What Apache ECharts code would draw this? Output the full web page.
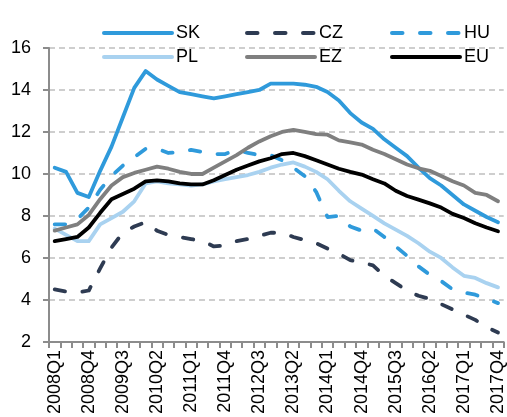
<!DOCTYPE html>
<html>
<head>
<meta charset="utf-8">
<script src="https://cdn.jsdelivr.net/npm/echarts@6/dist/echarts.min.js"></script>
<style>html,body{margin:0;padding:0;background:#fff}#c{width:507px;height:417px}</style>
</head>
<body>
<div id="c"></div>
<script>
const categories = ["2008Q1","2008Q2","2008Q3","2008Q4","2009Q1","2009Q2","2009Q3","2009Q4",
  "2010Q1","2010Q2","2010Q3","2010Q4","2011Q1","2011Q2","2011Q3","2011Q4",
  "2012Q1","2012Q2","2012Q3","2012Q4","2013Q1","2013Q2","2013Q3","2013Q4",
  "2014Q1","2014Q2","2014Q3","2014Q4","2015Q1","2015Q2","2015Q3","2015Q4",
  "2016Q1","2016Q2","2016Q3","2016Q4","2017Q1","2017Q2","2017Q3","2017Q4"];
const SK = [10.3,10.1,9.1,8.9,10.15,11.3,12.7,14.1,14.9,14.5,14.2,13.9,13.8,13.7,13.6,13.7,13.8,13.9,14.0,14.3,14.3,14.3,14.25,14.15,13.9,13.5,12.9,12.45,12.15,11.65,11.25,10.85,10.3,9.8,9.45,9.0,8.55,8.25,7.95,7.7];
const CZ = [4.5,4.4,4.35,4.45,5.5,6.5,7.2,7.5,7.7,7.3,7.1,7.0,6.9,6.8,6.55,6.6,6.8,6.9,7.05,7.2,7.2,7.0,6.85,6.7,6.45,6.2,5.9,5.78,5.65,5.15,4.8,4.45,4.2,4.05,3.8,3.55,3.3,3.05,2.7,2.45];
const HU = [7.6,7.6,7.85,8.4,9.25,9.9,10.4,10.8,11.2,11.2,11.0,11.05,11.15,11.05,10.95,10.95,11.15,11.0,10.9,10.9,10.65,10.3,9.9,9.15,7.95,8.0,7.5,7.3,7.4,7.0,6.55,6.1,5.6,5.2,4.9,4.5,4.35,4.25,4.05,3.85];
const PL = [7.4,7.1,6.8,6.8,7.6,7.9,8.2,8.7,9.55,9.65,9.55,9.5,9.45,9.5,9.65,9.75,9.85,9.95,10.1,10.3,10.45,10.55,10.35,10.1,9.75,9.2,8.7,8.35,8.0,7.65,7.35,7.05,6.7,6.3,6.0,5.55,5.15,5.05,4.8,4.6];
const EZ = [7.3,7.45,7.6,8.05,8.8,9.45,9.85,10.05,10.2,10.35,10.25,10.1,10.0,10.0,10.3,10.6,10.9,11.25,11.55,11.8,12.0,12.1,12.0,11.9,11.87,11.6,11.5,11.4,11.15,10.95,10.7,10.45,10.27,10.15,9.9,9.65,9.45,9.1,9.0,8.7];
const EU = [6.8,6.9,7.0,7.45,8.15,8.8,9.05,9.3,9.65,9.7,9.65,9.55,9.5,9.5,9.7,9.95,10.2,10.4,10.6,10.75,10.95,11.0,10.85,10.65,10.45,10.25,10.1,9.97,9.75,9.55,9.2,8.95,8.78,8.6,8.4,8.1,7.9,7.65,7.45,7.27];
const yTicks = {min: 2, max: 16, interval: 2};

const FONT = 'Liberation Sans, Arial, sans-serif';
const seriesDefs = [
  {name: 'SK', data: SK, color: '#2F9ADB', type: 'solid'},
  {name: 'CZ', data: CZ, color: '#2E3B52', type: 'dashed'},
  {name: 'HU', data: HU, color: '#2F9ADB', type: 'dashed'},
  {name: 'PL', data: PL, color: '#A9D2F0', type: 'solid'},
  {name: 'EZ', data: EZ, color: '#7F7F7F', type: 'solid'},
  {name: 'EU', data: EU, color: '#000000', type: 'solid'}
];
const legendPos = [[102, 19], [245, 19], [390, 19], [102, 43], [245, 43], [390, 43]];
const DASH = [10.5, 17.5];

const chart = echarts.init(document.getElementById('c'), null, {renderer: 'canvas'});
chart.setOption({
  animation: false,
  backgroundColor: '#fff',
  grid: {left: 49, right: 2, top: 48, bottom: 74, containLabel: false},
  legend: seriesDefs.map((s, i) => ({
    data: [s.name], left: legendPos[i][0], top: legendPos[i][1] + 5, padding: 0,
    itemWidth: 68, itemHeight: 20, itemGap: 0,
    itemStyle: {opacity: 0},
    lineStyle: {width: 4, color: s.color, type: s.type === 'dashed' ? DASH : 'solid', cap: 'round'},
    textStyle: {fontFamily: FONT, fontSize: 18, color: '#000', padding: [0,0,0,-1]},
    selectedMode: false
  })),
  xAxis: {
    type: 'category', data: categories, boundaryGap: true,
    axisLine: {lineStyle: {color: '#8C8C8C', width: 2}},
    axisTick: {show: true, interval: 0, length: 6, lineStyle: {color: '#8C8C8C', width: 2}},
    axisLabel: {interval: 2, rotate: 90, margin: 8, fontFamily: FONT, fontSize: 18, color: '#000'},
    splitLine: {show: false}
  },
  yAxis: {
    type: 'value', min: yTicks.min, max: yTicks.max, interval: yTicks.interval,
    axisLine: {show: true, lineStyle: {color: '#8C8C8C', width: 2}},
    axisTick: {show: true, length: 6, lineStyle: {color: '#8C8C8C', width: 2}},
    axisLabel: {margin: 18, fontFamily: FONT, fontSize: 18, color: '#000'},
    splitLine: {show: true, lineStyle: {color: '#BFBFBF', width: 1.5, type: [6, 4]}}
  },
  series: seriesDefs.map(s => ({
    name: s.name, type: 'line', data: s.data, symbol: 'none', smooth: false,
    lineStyle: {color: s.color, width: 3.8, type: s.type === 'dashed' ? DASH : 'solid', cap: 'round', join: 'round'},
    itemStyle: {color: s.color}
  }))
});
</script>
</body>
</html>
